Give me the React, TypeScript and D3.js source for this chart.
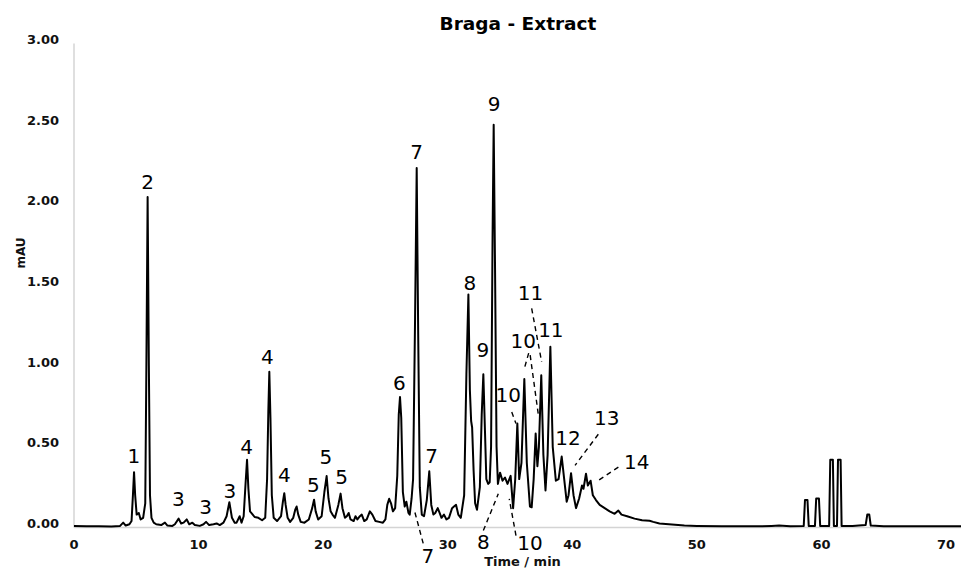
import React from 'react';
import * as d3 from 'd3';

const title = 'Braga - Extract';
const xTitle = 'Time / min';
const yTitle = 'mAU';
const xTicks = [0, 10, 20, 30, 40, 50, 60, 70];
const yTicks = [0, 0.5, 1, 1.5, 2, 2.5, 3];

// chromatogram trace: [time (min), absorbance (mAU)]
const trace: [number, number][] = [
  [0, 0.01], [1, 0.008], [2, 0.008], [3, 0.006], [3.7, 0.01], [3.95, 0.03], [4.15, 0.012], [4.45, 0.02],
  [4.62, 0.04], [4.73, 0.2], [4.82, 0.343], [4.91, 0.2], [5.03, 0.08], [5.2, 0.09], [5.35, 0.05], [5.55, 0.06],
  [5.72, 0.15], [5.81, 1.0], [5.91, 2.048], [6.01, 1.0], [6.1, 0.2], [6.22, 0.06], [6.4, 0.03], [6.6, 0.02],
  [7, 0.015], [7.3, 0.03], [7.5, 0.012], [7.9, 0.01], [8.1, 0.02], [8.4, 0.055], [8.6, 0.025], [8.8, 0.03],
  [9.05, 0.05], [9.25, 0.02], [9.5, 0.03], [9.7, 0.015], [10.1, 0.01], [10.4, 0.02], [10.6, 0.035], [10.85, 0.015],
  [11.2, 0.02], [11.45, 0.025], [11.7, 0.015], [12.0, 0.03], [12.25, 0.07], [12.47, 0.157], [12.68, 0.06], [12.9, 0.03],
  [13.05, 0.03], [13.3, 0.07], [13.45, 0.03], [13.62, 0.07], [13.77, 0.27], [13.89, 0.42], [14.0, 0.24], [14.13, 0.1],
  [14.3, 0.085], [14.5, 0.065], [14.8, 0.06], [15.1, 0.045], [15.35, 0.06], [15.5, 0.3], [15.6, 0.72], [15.68, 0.965],
  [15.77, 0.68], [15.88, 0.2], [16.03, 0.06], [16.3, 0.04], [16.62, 0.07], [16.77, 0.16], [16.88, 0.213], [16.99, 0.14],
  [17.15, 0.06], [17.35, 0.035], [17.6, 0.06], [17.76, 0.11], [17.87, 0.13], [18.0, 0.08], [18.2, 0.035], [18.5, 0.03],
  [18.85, 0.05], [19.12, 0.12], [19.27, 0.172], [19.4, 0.1], [19.6, 0.05], [19.88, 0.07], [20.1, 0.22], [20.28, 0.319],
  [20.43, 0.18], [20.6, 0.1], [20.75, 0.08], [20.95, 0.06], [21.22, 0.14], [21.4, 0.21], [21.55, 0.12], [21.75, 0.06],
  [21.9, 0.07], [22.05, 0.09], [22.2, 0.05], [22.45, 0.04], [22.6, 0.07], [22.75, 0.05], [22.95, 0.07], [23.1, 0.08],
  [23.3, 0.04], [23.5, 0.05], [23.75, 0.1], [23.95, 0.08], [24.2, 0.04], [24.5, 0.035], [24.8, 0.03], [25.0, 0.05],
  [25.15, 0.14], [25.3, 0.178], [25.45, 0.15], [25.6, 0.1], [25.78, 0.12], [25.95, 0.32], [26.07, 0.7], [26.17, 0.809],
  [26.27, 0.68], [26.4, 0.22], [26.55, 0.13], [26.68, 0.16], [26.85, 0.09], [26.95, 0.08], [27.1, 0.18], [27.22, 0.3],
  [27.38, 1.3], [27.51, 2.228], [27.63, 1.2], [27.76, 0.25], [27.92, 0.08], [28.1, 0.07], [28.32, 0.17], [28.52, 0.348],
  [28.68, 0.14], [28.85, 0.08], [29.0, 0.09], [29.2, 0.12], [29.35, 0.09], [29.5, 0.06], [29.7, 0.08], [29.9, 0.05],
  [30.1, 0.06], [30.35, 0.12], [30.5, 0.13], [30.67, 0.14], [30.85, 0.08], [31.05, 0.06], [31.32, 0.2], [31.5, 0.95],
  [31.66, 1.444], [31.78, 0.85], [31.88, 0.66], [31.96, 0.62], [32.08, 0.35], [32.2, 0.15], [32.35, 0.11], [32.58, 0.25],
  [32.73, 0.7], [32.86, 0.95], [32.99, 0.6], [33.1, 0.3], [33.25, 0.27], [33.37, 0.28], [33.48, 0.5], [33.6, 1.8],
  [33.69, 2.497], [33.8, 1.6], [33.92, 0.5], [34.03, 0.27], [34.2, 0.34], [34.4, 0.29], [34.6, 0.31], [34.8, 0.27],
  [35.05, 0.32], [35.25, 0.12], [35.42, 0.3], [35.59, 0.644], [35.74, 0.3], [35.92, 0.4], [36.15, 0.92], [36.35, 0.4],
  [36.6, 0.13], [36.74, 0.125], [36.9, 0.3], [37.06, 0.582], [37.2, 0.38], [37.32, 0.5], [37.51, 0.944], [37.68, 0.45],
  [37.85, 0.23], [38.02, 0.45], [38.24, 1.12], [38.43, 0.5], [38.68, 0.29], [38.9, 0.3], [39.15, 0.44], [39.35, 0.3],
  [39.55, 0.16], [39.7, 0.2], [39.9, 0.337], [40.1, 0.2], [40.3, 0.12], [40.55, 0.18], [40.78, 0.26], [40.9, 0.24],
  [41.1, 0.333], [41.25, 0.26], [41.47, 0.29], [41.65, 0.2], [41.9, 0.17], [42.2, 0.14], [42.6, 0.12], [43.0, 0.1],
  [43.4, 0.085], [43.7, 0.105], [43.95, 0.08], [44.4, 0.07], [45, 0.055], [45.6, 0.045], [46.2, 0.042], [46.5, 0.035],
  [47, 0.025], [48, 0.018], [49, 0.012], [50, 0.01], [52, 0.008], [55, 0.007], [56, 0.01], [56.6, 0.012],
  [57.5, 0.008], [58.58, 0.01], [58.68, 0.17], [58.88, 0.17], [58.98, 0.01], [59.48, 0.01], [59.58, 0.18], [59.8, 0.18],
  [59.9, 0.01], [60.62, 0.01], [60.71, 0.42], [60.92, 0.42], [61.0, 0.01], [61.25, 0.01], [61.33, 0.42], [61.54, 0.42],
  [61.62, 0.01], [62.5, 0.01], [63.0, 0.012], [63.55, 0.015], [63.68, 0.08], [63.84, 0.08], [63.96, 0.012], [65, 0.008],
  [68, 0.007], [71.5, 0.008],
];

// peak numbers: text, anchor time, anchor value (baseline of the text)
const peakLabels: { text: string; t: number; v: number }[] = [
  { text: '1', t: 4.8, v: 0.398 },
  { text: '2', t: 5.9, v: 2.099 },
  { text: '3', t: 8.37, v: 0.132 },
  { text: '3', t: 10.57, v: 0.085 },
  { text: '3', t: 12.52, v: 0.184 },
  { text: '4', t: 13.86, v: 0.458 },
  { text: '4', t: 15.52, v: 1.012 },
  { text: '4', t: 16.88, v: 0.281 },
  { text: '5', t: 19.21, v: 0.219 },
  { text: '5', t: 20.21, v: 0.396 },
  { text: '5', t: 21.49, v: 0.267 },
  { text: '6', t: 26.11, v: 0.851 },
  { text: '7', t: 27.51, v: 2.286 },
  { text: '7', t: 28.71, v: 0.402 },
  { text: '7', t: 28.4, v: -0.222 },
  { text: '8', t: 31.77, v: 1.472 },
  { text: '9', t: 32.83, v: 1.058 },
  { text: '9', t: 33.72, v: 2.58 },
  { text: '10', t: 34.86, v: 0.778 },
  { text: '10', t: 36.07, v: 1.11 },
  { text: '11', t: 36.65, v: 1.41 },
  { text: '11', t: 38.28, v: 1.178 },
  { text: '12', t: 39.66, v: 0.509 },
  { text: '13', t: 42.76, v: 0.634 },
  { text: '14', t: 45.17, v: 0.365 },
  { text: '8', t: 32.86, v: -0.132 },
  { text: '10', t: 36.61, v: -0.14 },
];

// dashed leader lines: [t1, v1, t2, v2]
const leaders: [number, number, number, number][] = [
  [27.37, 0.093, 28.04, -0.101],
  [32.86, -0.019, 34.06, 0.209],
  [35.48, -0.05, 34.94, 0.178],
  [35.14, 0.716, 35.48, 0.644],
  [36.5, 1.081, 36.16, 0.988],
  [36.62, 1.068, 37.27, 0.702],
  [36.74, 1.358, 37.54, 1.027],
  [42.09, 0.578, 40.22, 0.385],
  [43.7, 0.374, 42.09, 0.292],
];

const W = 961;
const H = 569;
const FONT = '"DejaVu Sans", Verdana, sans-serif';

export default function App() {
  const x = d3.scaleLinear().domain([0, 70]).range([74, 946]);
  const y = d3.scaleLinear().domain([0, 3]).range([527.5, 43.5]);
  const line = d3
    .line<[number, number]>()
    .x((d) => x(d[0]))
    .y((d) => y(d[1]))
    .curve(d3.curveLinear);

  return (
    <svg
      width={W}
      height={H}
      style={{ position: 'absolute', left: 0, top: 0, background: '#fff' }}
      fontFamily={FONT}
    >
      <rect x={0} y={0} width={W} height={H} fill="#fff" />
      {/* axes */}
      <line x1={x(0)} x2={x(0)} y1={y(3)} y2={y(0)} stroke="#d4d4d4" strokeWidth={1.5} />
      <line x1={x(0)} x2={W} y1={y(0)} y2={y(0)} stroke="#d4d4d4" strokeWidth={1.5} />

      {/* y tick labels */}
      {yTicks.map((v) => (
        <text
          key={'y' + v}
          x={59}
          y={y(v) - 4}
          textAnchor="end"
          dominantBaseline="central"
          fontSize={13}
          fontWeight="bold"
          fill="#111"
        >
          {v.toFixed(2)}
        </text>
      ))}
      {/* x tick labels */}
      {xTicks.map((t) => (
        <text key={'x' + t} x={x(t)} y={549} textAnchor="middle" fontSize={13} fontWeight="bold" fill="#111">
          {t}
        </text>
      ))}

      {/* axis titles */}
      <text
        transform={`translate(25,253) rotate(-90)`}
        textAnchor="middle"
        fontSize={12}
        fontWeight="bold"
        fill="#111"
      >
        {yTitle}
      </text>
      <text x={522.5} y={566} textAnchor="middle" fontSize={13} fontWeight="bold" fill="#111">
        {xTitle}
      </text>
      <text x={518} y={30} textAnchor="middle" fontSize={18.5} fontWeight="bold" fill="#000">
        {title}
      </text>

      {/* trace */}
      <path d={line(trace) || ''} fill="none" stroke="#000" strokeWidth={2} strokeLinejoin="round" />

      {/* leader lines */}
      {leaders.map((l, i) => (
        <line
          key={'l' + i}
          x1={x(l[0])}
          y1={y(l[1])}
          x2={x(l[2])}
          y2={y(l[3])}
          stroke="#000"
          strokeWidth={1.4}
          strokeDasharray="5,4"
        />
      ))}

      {/* peak labels */}
      {peakLabels.map((p, i) => (
        <text key={'p' + i} x={x(p.t)} y={y(p.v)} textAnchor="middle" fontSize={20} fill="#000">
          {p.text}
        </text>
      ))}
    </svg>
  );
}
